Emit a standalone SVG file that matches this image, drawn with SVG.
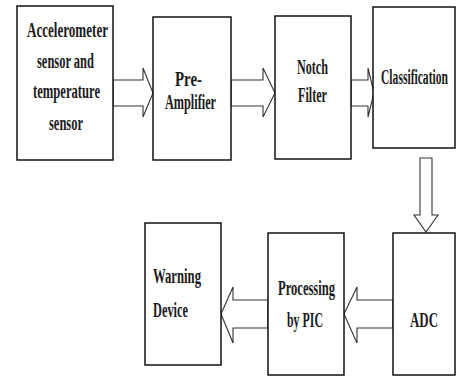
<svg xmlns="http://www.w3.org/2000/svg" width="457" height="378" viewBox="0 0 457 378">
<style>
.box{fill:#fff;stroke:#111;stroke-width:1.5}
.arr{fill:#fff;stroke:#333;stroke-width:1.1;stroke-linejoin:miter}
text{font-family:"Liberation Serif","Times New Roman",serif;font-weight:bold;font-size:20.5px;fill:#1a1a1a}
</style>
<rect width="457" height="378" fill="#fff"/>
<g id="connectors">
<polygon class="arr" points="113,80 143,80 143,68 153,93 143,117 143,106 113,106"/>
<polygon class="arr" points="231,80 263,80 263,68 275,93 263,117 263,106 231,106"/>
<polygon class="arr" points="351,80 368,80 368,68 374,93 368,117 368,106 351,106"/>
<polygon class="arr" points="420,158 432,158 432,215 438,215 426,232 414,215 420,215"/>
<polygon class="arr" points="393,300 357,300 357,287 344,314 357,343 357,328 393,328"/>
<polygon class="arr" points="268,300 233,300 233,287 221,314 233,343 233,328 268,328"/>
</g>
<g id="accelerometer">
<rect class="box" x="17" y="6" width="96" height="154"/>
<text x="27" y="37" textLength="81" lengthAdjust="spacingAndGlyphs">Accelerometer</text>
<text x="37" y="68" textLength="57" lengthAdjust="spacingAndGlyphs">sensor and</text>
<text x="33" y="98" textLength="67" lengthAdjust="spacingAndGlyphs">temperature</text>
<text x="49" y="130" textLength="34" lengthAdjust="spacingAndGlyphs">sensor</text>
</g>
<g id="preamp">
<rect class="box" x="153" y="17" width="78" height="143"/>
<text x="175" y="86" textLength="27" lengthAdjust="spacingAndGlyphs">Pre-</text>
<text x="165" y="109" textLength="51" lengthAdjust="spacingAndGlyphs">Amplifier</text>
</g>
<g id="notch">
<rect class="box" x="275" y="16" width="76" height="143"/>
<text x="297" y="74" textLength="31" lengthAdjust="spacingAndGlyphs">Notch</text>
<text x="298" y="102" textLength="29" lengthAdjust="spacingAndGlyphs">Filter</text>
</g>
<g id="classification">
<rect class="box" x="373" y="7" width="82" height="141"/>
<text x="381" y="84" textLength="67" lengthAdjust="spacingAndGlyphs">Classification</text>
</g>
<g id="adc">
<rect class="box" x="393" y="233" width="62" height="142"/>
<text x="410" y="327" textLength="28" lengthAdjust="spacingAndGlyphs">ADC</text>
</g>
<g id="pic">
<rect class="box" x="268" y="233" width="76" height="142"/>
<text x="278" y="295" textLength="57" lengthAdjust="spacingAndGlyphs">Processing</text>
<text x="287" y="327" textLength="36" lengthAdjust="spacingAndGlyphs">by PIC</text>
</g>
<g id="warning">
<rect class="box" x="145" y="223" width="76" height="142"/>
<text x="153" y="283" textLength="48" lengthAdjust="spacingAndGlyphs">Warning</text>
<text x="153" y="317" textLength="35" lengthAdjust="spacingAndGlyphs">Device</text>
</g>
</svg>
